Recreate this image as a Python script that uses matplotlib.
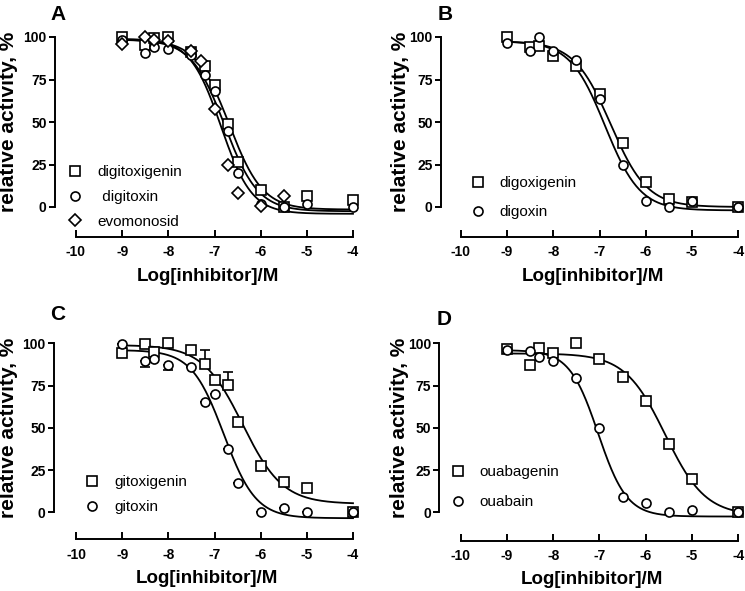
import numpy as np
import matplotlib.pyplot as plt

plt.rcParams['font.family'] = ['Liberation Sans', 'DejaVu Sans']
plt.rcParams['axes.unicode_minus'] = False

# concentrations, log[M]
xA = [-9, -8.5, -8.3, -8, -7.5, -7.2, -7, -6.7, -6.5, -6, -5.5, -5, -4]
xA_evo = [-9, -8.5, -8.3, -8, -7.5, -7.3, -7, -6.7, -6.5, -6, -5.5]
x_std = [-9, -8.5, -8.3, -8, -7.5, -7, -6.5, -6, -5.5, -5, -4]
xC = [-9, -8.5, -8.3, -8, -7.5, -7.2, -7, -6.7, -6.5, -6, -5.5, -5, -4]

# panel A
digitoxigenin = [100, 95.5, 99.4, 100, 91, 83, 72, 48.6, 26.6, 10, 0, 6.3, 4]
digitoxin = [98, 90.5, 94, 93, 89.6, 77.8, 68, 45, 20, 2, 0, 1.6, 0]
evomonosid = [96, 100, 98, 97.5, 91.5, 86, 57.5, 25, 8, 0.4, 6.3]

# panel B
digoxigenin = [100, 94, 94.5, 89, 83, 66.3, 37.4, 14.8, 5, 3, 0]
digoxin = [96.5, 91.5, 100, 91.5, 86.6, 63.4, 24.6, 3.5, 0, 3.3, 0]

# panel C
gitoxigenin = [94, 99.4, 95, 100, 96, 88, 78, 75.5, 53.6, 27.4, 18, 14.2, 0.4]
gitoxin = [99.5, 89.7, 90.7, 87, 85.8, 65.5, 69.8, 37.3, 17.5, 0.4, 2.4, 0.4, 0]
gitoxigenin_err = [0, 0, 0, 0, 0, 8, 0, 7.5, 0, 0, 0, 0, 0]
gitoxin_err = [0, 4, 0, 3, 0, 0, 0, 0, 0, 0, 0, 0, 0]

# panel D
ouabagenin = [96.4, 87.2, 97, 94.5, 100, 91, 80.3, 65.9, 40.2, 19.5, 0]
ouabain = [96, 95.7, 92, 89.5, 79.3, 49.7, 9.3, 5.3, 0, 1.4, 0]

# fitted dose-response parameters: top, bottom, logIC50, hill
fit_digitoxigenin = (98.5, -1.5, -6.68, 1.2)
fit_digitoxin = (98.5, -2.5, -6.78, 1.2)
fit_evomonosid = (99, -4, -6.86, 1.3)
fit_digoxigenin = (97.5, 0, -6.76, 1.1)
fit_digoxin = (97.5, -2, -6.88, 1.15)
fit_gitoxigenin = (99, 5, -6.39, 1.0)
fit_gitoxin = (96, -3.5, -6.8, 1.25)
fit_ouabagenin = (94, -2, -5.58, 1.0)
fit_ouabain = (96, -2.5, -7.03, 1.4)


def curve(p, x):
    top, bottom, c, h = p
    return bottom + (top - bottom) / (1 + 10 ** ((x - c) * h))


fig = plt.figure(figsize=(7.45, 5.91), dpi=100)
W, H = 745, 591


def make_axes(yaxis_px, x10, x4, y100, y0, xaxis_px, label_px):
    ux = (x4 - x10) / 6.0
    uy = (y0 - y100) / 100.0
    xl = -10 - (x10 - yaxis_px) / ux
    xr = -3.85
    yb = -(xaxis_px - y0) / uy
    yt = 105
    right_px = x4 + 0.15 * ux
    top_px = y100 - 5 * uy
    ax = fig.add_axes([yaxis_px / W, 1 - xaxis_px / H,
                       (right_px - yaxis_px) / W, (xaxis_px - top_px) / H])
    ax.set_xlim(xl, xr)
    ax.set_ylim(yb, yt)
    for s in ['top', 'right']:
        ax.spines[s].set_visible(False)
    ax.spines['left'].set_bounds(0, 100)
    ax.spines['bottom'].set_bounds(-10, -4)
    for s in ['left', 'bottom']:
        ax.spines[s].set_linewidth(1.4)
    ax.set_xticks(range(-10, -3))
    ax.set_yticks([0, 25, 50, 75, 100])
    ax.tick_params(axis='x', direction='in', length=5, width=1.4, pad=6)
    ax.tick_params(axis='y', direction='out', length=4, width=1.4, pad=2)
    for lab in ax.get_xticklabels() + ax.get_yticklabels():
        lab.set_fontweight('bold')
        lab.set_fontsize(10)
    ax.set_xlabel('Log[inhibitor]/M', fontsize=13.5, fontweight='bold', labelpad=6)
    ax.set_ylabel('relative activity, %', fontsize=15, fontweight='bold')
    # centre the y label on the 0-100 spine
    ax.yaxis.set_label_coords((label_px - yaxis_px) / (right_px - yaxis_px),
                              (50 - yb) / (yt - yb))
    ax.patch.set_visible(False)
    return ax


axA = make_axes(55, 76, 353, 37, 207, 237, 18)
axB = make_axes(441, 460.7, 738.3, 37, 207, 237, 410)
axC = make_axes(54, 76, 353, 343.3, 512.3, 539.3, 18)
axD = make_axes(439.3, 460.7, 738.3, 343.3, 512.3, 540.7, 409)

xs = np.linspace(-9, -4, 300)
mk = dict(linestyle='none', markerfacecolor='white', markeredgecolor='black',
          markeredgewidth=1.2, zorder=3)
sq = dict(marker='s', markersize=7.5, **mk)
ci = dict(marker='o', markersize=6.5, **mk)
di = dict(marker='D', markersize=6, **mk)
lw = 1.3

# A
for p in [fit_digitoxigenin, fit_digitoxin, fit_evomonosid]:
    axA.plot(xs, curve(p, xs), color='black', lw=lw)
axA.plot(xA, digitoxigenin, label='digitoxigenin', **sq)
axA.plot(xA, digitoxin, label=' digitoxin', **ci)
axA.plot(xA_evo, evomonosid, label='evomonosid', **di)

# B
for p in [fit_digoxigenin, fit_digoxin]:
    axB.plot(xs, curve(p, xs), color='black', lw=lw)
axB.plot(x_std, digoxigenin, label='digoxigenin', **sq)
axB.plot(x_std, digoxin, label='digoxin', **ci)

# C
for p in [fit_gitoxigenin, fit_gitoxin]:
    axC.plot(xs, curve(p, xs), color='black', lw=lw)
axC.errorbar(xC, gitoxigenin, yerr=[np.zeros(len(xC)), gitoxigenin_err],
             fmt='none', ecolor='black', elinewidth=1.2, capsize=3.5, capthick=1.2, zorder=2)
axC.errorbar(xC, gitoxin, yerr=[gitoxin_err, np.zeros(len(xC))],
             fmt='none', ecolor='black', elinewidth=1.2, capsize=3.5, capthick=1.2, zorder=2)
axC.plot(xC, gitoxigenin, label='gitoxigenin', **sq)
axC.plot(xC, gitoxin, label='gitoxin', **ci)

# D
for p in [fit_ouabagenin, fit_ouabain]:
    axD.plot(xs, curve(p, xs), color='black', lw=lw)
axD.plot(x_std, ouabagenin, label='ouabagenin', **sq)
axD.plot(x_std, ouabain, label='ouabain', **ci)

# legend anchor (px), text pad, row spacing
for ax, (lx, ly, pad, ls) in [(axA, (67, 165, 1.0, 0.71)),
                              (axB, (470, 176, 0.94, 1.0)),
                              (axC, (84, 475, 0.97, 0.75)),
                              (axD, (450, 465, 0.92, 1.05))]:
    ax.legend(loc='upper left', bbox_to_anchor=(lx / W, 1 - ly / H),
              bbox_transform=fig.transFigure, frameon=False, fontsize=11,
              handletextpad=pad, labelspacing=ls, borderaxespad=0,
              borderpad=0, handlelength=1.0)

for txt, x, y in [('A', 50, 20), ('B', 438, 20), ('C', 50, 320), ('D', 437, 325)]:
    fig.text(x / W, 1 - y / H, txt, fontsize=15, fontweight='bold', ha='left', va='baseline')

fig.savefig('out.png', dpi=100)
